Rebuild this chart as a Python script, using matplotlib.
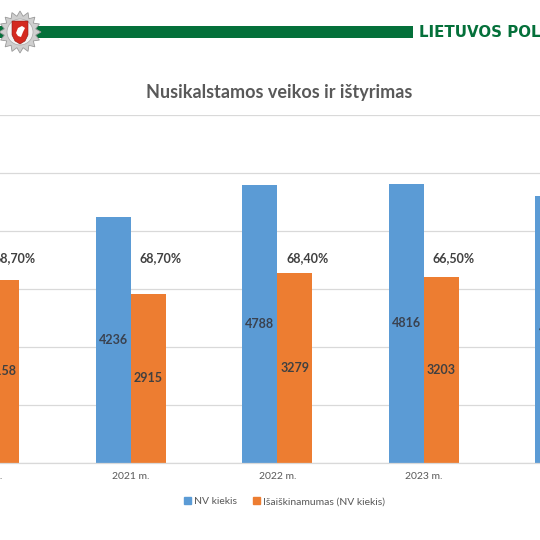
import numpy as np
import matplotlib.pyplot as plt
from matplotlib.patches import Rectangle, Polygon, Circle, Patch

plt.rcParams['font.family'] = ['Lato', 'DejaVu Sans']

years = ['2020 m.', '2021 m.', '2022 m.', '2023 m.', '2024 m.']
nv_kiekis = [4597, 4236, 4788, 4816, 4605]
isaiskinta = [3158, 2915, 3279, 3203, np.nan]   # 2024 not visible in the crop
pct_labels = ['68,70%', '68,70%', '68,40%', '66,50%', '']

blue = '#5B9BD5'
orange = '#ED7D31'
grey_txt = '#595959'
grid_c = '#D9D9D9'
green = '#04703A'

W = 540.0
fig = plt.figure(figsize=(5.4, 5.4), dpi=100)


def px(x, y):
    # pixel position (from top-left) -> figure fraction
    return x / W, 1 - y / W


# header: green band, badge, name
fig.add_artist(Rectangle(px(0, 38), 413 / W, 12 / W, transform=fig.transFigure,
                         color=green, lw=0))
fig.text(*px(419, 32.5), 'LIETUVOS POLICIJA', color=green, fontsize=10.8,
         fontweight='bold', family='DejaVu Sans', ha='left', va='center')

cx, cy = 20, 32
n = 16
ang = np.linspace(0, 2 * np.pi, 2 * n, endpoint=False) + np.pi / 2
rad = np.where(np.arange(2 * n) % 2 == 0, 21, 16)
star = [px(cx + r * np.cos(a), cy - r * np.sin(a)) for r, a in zip(rad, ang)]
fig.add_artist(Polygon(star, closed=True, transform=fig.transFigure,
                       facecolor='#CFCFCF', edgecolor='#9A9A9A', lw=0.6))
fig.add_artist(Circle(px(cx, cy), 13 / W, transform=fig.transFigure,
                      facecolor='#F2F2F2', edgecolor='#A8A8A8', lw=0.5))
shield = [px(12, 21), px(28, 21), px(28, 35), px(25, 41), px(20, 44),
          px(15, 41), px(12, 35)]
fig.add_artist(Polygon(shield, closed=True, transform=fig.transFigure,
                       facecolor='#D42A20', edgecolor='#8A1A14', lw=0.4))
rider = [px(16, 33), px(18, 28), px(22, 26), px(25, 28), px(23, 32),
         px(21, 37), px(18, 36)]
fig.add_artist(Polygon(rider, closed=True, transform=fig.transFigure,
                       facecolor='white', lw=0))

fig.text(279 / W, 0.828, 'Nusikalstamos veikos ir ištyrimas', ha='center',
         va='center', fontsize=13, fontweight='bold', color=grey_txt)

# chart area (wider than the picture, it is a crop of a slide)
ax = fig.add_axes([-89.2 / W, 77 / W, 733 / W, 348 / W])
x = np.arange(len(years))
w = 0.2388
ax.bar(x - w / 2, nv_kiekis, w, color=blue, zorder=2)
ax.bar(x + w / 2, isaiskinta, w, color=orange, zorder=2)

for i in range(len(years)):
    ax.text(x[i] - w / 2, nv_kiekis[i] / 2, str(nv_kiekis[i]), ha='center',
            va='center', fontsize=9, fontweight='bold', color='#3A4250', zorder=3)
    if not np.isnan(isaiskinta[i]):
        ax.text(x[i] + w / 2, isaiskinta[i] / 2, str(int(isaiskinta[i])),
                ha='center', va='center', fontsize=9, fontweight='bold',
                color='#404040', zorder=3)
    if pct_labels[i]:
        ax.text(x[i] + 0.205, 3540, pct_labels[i], ha='center', va='center',
                fontsize=9, fontweight='bold', color='#404040', zorder=3)

ax.set_xlim(-0.5, 4.5)
ax.set_ylim(0, 6000)
ax.set_yticks(np.arange(0, 6001, 1000))
ax.set_xticks(x)
ax.set_xticklabels(years)
ax.tick_params(axis='x', length=0, pad=6.5, labelsize=7.5, labelcolor=grey_txt)
ax.tick_params(axis='y', left=False, labelleft=False)
ax.grid(axis='y', color=grid_c, lw=0.9, zorder=0)
ax.set_axisbelow(True)
for s in ['top', 'right', 'left']:
    ax.spines[s].set_visible(False)
ax.spines['bottom'].set_color(grid_c)
ax.spines['bottom'].set_linewidth(0.9)

handles = [Patch(color=blue), Patch(color=orange)]
leg = fig.legend(handles, ['NV kiekis', 'Išaiškinamumas (NV kiekis)'],
                 loc='center', bbox_to_anchor=(0.527, 0.071), ncol=2,
                 frameon=False, fontsize=7.5, handlelength=0.6,
                 handleheight=0.6, columnspacing=1.6, handletextpad=0.3)
for t in leg.get_texts():
    t.set_color(grey_txt)

fig.savefig('out.png', dpi=100)
